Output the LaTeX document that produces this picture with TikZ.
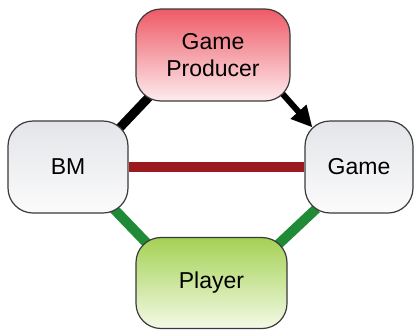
\documentclass[tikz,border=0pt]{standalone}
\usepackage{fontspec}
\setmainfont{Liberation Sans}
\usetikzlibrary{calc,arrows.meta,backgrounds}
\definecolor{boxline}{HTML}{3A3A3A}
\definecolor{redtop}{HTML}{EE5A66}
\definecolor{redbot}{HTML}{FDECEE}
\definecolor{greentop}{HTML}{A4D154}
\definecolor{greenbot}{HTML}{F3FAE6}
\definecolor{greytop}{HTML}{E4E5E9}
\definecolor{greybot}{HTML}{FBFBFB}
\definecolor{linkred}{HTML}{9A1A1F}
\definecolor{linkgreen}{HTML}{1F8B37}
\tikzset{
  box/.style={draw=boxline, line width=1.2pt, rounded corners=25pt,
    align=center, inner sep=0pt, font=\fontsize{23}{27}\selectfont,
    minimum height=92pt},
  greybox/.style={box, top color=greytop, bottom color=greybot},
  link/.style={line width=10pt},
}
\begin{document}
\begin{tikzpicture}[x=1pt,y=-1pt]
  \useasboundingbox (0,0) rectangle (414,332);
  % the four actors
  \node[box, top color=redtop, bottom color=redbot, minimum width=154pt]
    (gp) at (213,55) {Game\\Producer};
  \node[greybox, minimum width=120pt] (bm) at (68,167) {BM};
  \node[greybox, minimum width=108pt] (game) at (359,167) {Game};
  \node[box, top color=greentop, bottom color=greenbot, minimum width=151pt,
    minimum height=91pt] (pl) at (211.5,283) {Player};
  % relations, drawn under the boxes
  \begin{scope}[on background layer]
    \draw[link, line width=9pt, black]
      ($(bm.north east)+(-18,17)$) -- ($(gp.south west)+(14,-5)$);
    \draw[link, linkred] (bm.east) -- (game.west);
    \draw[link, linkgreen]
      ($(bm.south east)+(-15,-5)$) -- ($(pl.north west)+(15,10)$);
    \draw[link, linkgreen]
      ($(game.south west)+(12,-5)$) -- ($(pl.north east)+(-12,10)$);
    \draw[line width=6pt, black, -{Triangle[length=21pt,width=20pt]}]
      ($(gp.south east)+(-10,-10)$) -- ($(game.north west)+(8,7)$);
  \end{scope}
\end{tikzpicture}
\end{document}
